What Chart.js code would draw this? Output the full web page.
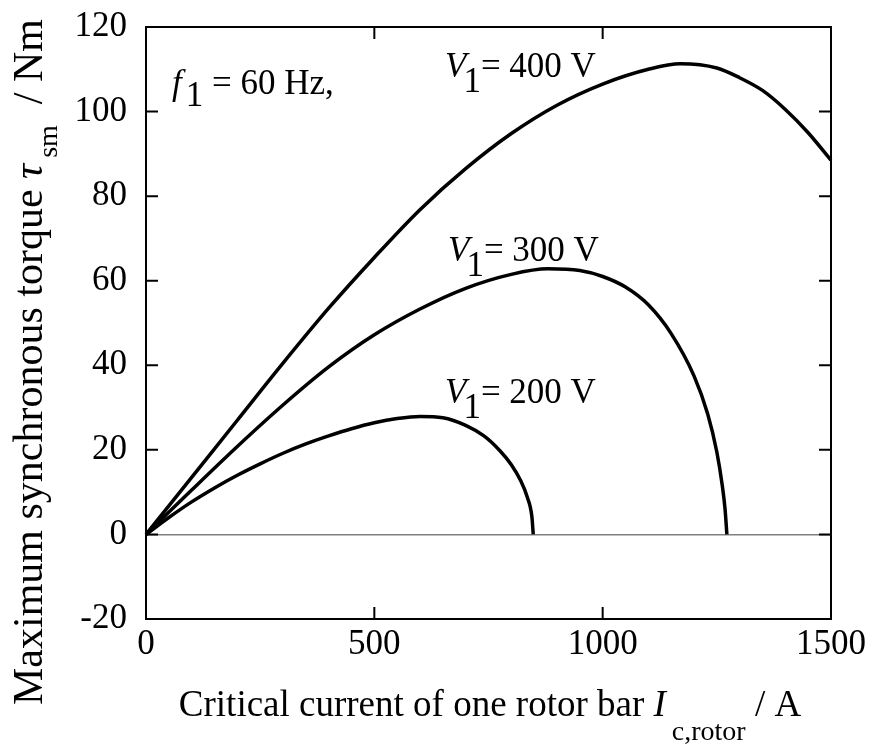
<!DOCTYPE html>
<html>
<head>
<meta charset="utf-8">
<script src="https://cdn.jsdelivr.net/npm/chart.js@4.4.0/dist/chart.umd.min.js"></script>
<style>
  html, body { margin: 0; padding: 0; background: #fff; }
  #wrap { width: 873px; height: 747px; }
</style>
</head>
<body>
<div id="wrap"><canvas id="chart"></canvas></div>
<script>
const current200 = [0, 50, 100, 150, 200, 250, 300, 350, 400, 450, 500, 550, 600, 650, 700, 740, 775, 800, 820, 835, 845, 848];
const torque200  = [0, 4, 7.7, 11, 14, 16.7, 19.2, 21.4, 23.3, 25, 26.4, 27.4, 27.9, 27.6, 25.8, 23.3, 19.8, 16.5, 12.8, 8.8, 4.2, 0];

const current300 = [0, 100, 200, 300, 400, 500, 600, 700, 800, 880, 950, 1000, 1050, 1100, 1150, 1200, 1230, 1250, 1262, 1268, 1272];
const torque300  = [0, 10.5, 20.8, 30.6, 39.6, 47.2, 53.3, 58.2, 61.5, 62.8, 62.4, 61, 58.5, 54.3, 47.5, 37.5, 28.5, 19.5, 11.5, 6, 0];

const current400 = [0, 100, 200, 300, 400, 500, 600, 700, 800, 900, 1000, 1100, 1170, 1250, 1300, 1350, 1400, 1450, 1500];
const torque400  = [0, 13.5, 27, 40.5, 53.5, 65.5, 76.8, 86.5, 94.8, 101.5, 106.5, 110, 111.3, 110.3, 108, 105, 100.5, 95, 88.5];

const xTickValues = [0, 500, 1000, 1500];
const yTickValues = [-20, 0, 20, 40, 60, 80, 100, 120];

const SERIF = "'Liberation Serif', 'Times New Roman', serif";

const toPoints = (xs, ys) => xs.map((x, i) => ({ x: x, y: ys[i] }));

function curve(xs, ys) {
  return {
    data: toPoints(xs, ys),
    borderColor: '#000',
    borderWidth: 3.5,
    pointRadius: 0,
    fill: false,
    cubicInterpolationMode: 'monotone',
    clip: false,
  };
}

// draw a run of text pieces (for sub-scripts), left to right
function drawRich(ctx, segs, x, y, align) {
  let total = 0;
  segs.forEach(s => {
    ctx.font = s.font;
    s.w = ctx.measureText(s.t).width;
    total += s.w + (s.gap || 0);
  });
  let cx = align === 'center' ? x - total / 2 : x;
  segs.forEach(s => {
    ctx.font = s.font;
    ctx.fillText(s.t, cx, y + (s.dy || 0));
    cx += s.w + (s.gap || 0);
  });
}

const framePlugin = {
  id: 'frame',
  afterDraw(chart) {
    const ctx = chart.ctx;
    const a = chart.chartArea;
    const xs = chart.scales.x;
    const ys = chart.scales.y;
    const tick = 12;
    ctx.save();
    ctx.strokeStyle = '#000';
    ctx.lineWidth = 2;
    ctx.strokeRect(a.left, a.top, a.right - a.left, a.bottom - a.top);
    ctx.beginPath();
    yTickValues.forEach(v => {
      const py = ys.getPixelForValue(v);
      ctx.moveTo(a.left, py); ctx.lineTo(a.left + tick, py);
      ctx.moveTo(a.right, py); ctx.lineTo(a.right - tick, py);
    });
    xTickValues.forEach(v => {
      const px = xs.getPixelForValue(v);
      ctx.moveTo(px, a.bottom); ctx.lineTo(px, a.bottom - tick);
      ctx.moveTo(px, a.top); ctx.lineTo(px, a.top + tick);
    });
    ctx.stroke();

    ctx.fillStyle = '#000';
    ctx.textBaseline = 'alphabetic';
    ctx.textAlign = 'left';
    const f = '35px ' + SERIF;
    const fi = 'italic 35px ' + SERIF;

    drawRich(ctx, [
      { t: 'f', font: fi, gap: 4 },
      { t: '1', font: f, dy: 12 },
      { t: ' = 60 Hz,', font: f }
    ], 172, 94);

    const vLabel = (txt, x, y) => drawRich(ctx, [
      { t: 'V', font: fi, gap: -3 },
      { t: '1', font: f, dy: 15 },
      { t: '= ' + txt, font: f }
    ], x, y);
    vLabel('400 V', 445, 77);
    vLabel('300 V', 448, 261);
    vLabel('200 V', 445, 403);

    // axis titles
    const tf = '37px ' + SERIF;
    const tfi = 'italic 37px ' + SERIF;
    const sf = '28px ' + SERIF;
    drawRich(ctx, [
      { t: 'Critical current of one rotor bar ', font: tf },
      { t: 'I', font: tfi, gap: 6 },
      { t: 'c,rotor', font: sf, dy: 24 },
      { t: ' / A', font: tf }
    ], 490, 716, 'center');

    const yf = '42px ' + SERIF;
    const yfi = 'italic 42px ' + SERIF;
    ctx.translate(42, 362);
    ctx.rotate(-Math.PI / 2);
    drawRich(ctx, [
      { t: 'Maximum synchronous torque ', font: yf },
      { t: '\u03C4', font: yfi, gap: 6 },
      { t: 'sm', font: sf, dy: 15 },
      { t: '  / Nm', font: yf }
    ], 0, 0, 'center');
    ctx.restore();
  }
};

new Chart(document.getElementById('chart').getContext('2d'), {
  type: 'line',
  data: {
    datasets: [
      curve(current400, torque400),
      curve(current300, torque300),
      curve(current200, torque200),
    ],
  },
  options: {
    responsive: true,
    maintainAspectRatio: false,
    animation: false,
    layout: { padding: { top: 27, right: 42, bottom: 0, left: 0 } },
    plugins: {
      legend: { display: false },
      tooltip: { enabled: false },
    },
    scales: {
      x: {
        type: 'linear',
        min: 0,
        max: 1500,
        afterBuildTicks: (scale) => { scale.ticks = xTickValues.map(v => ({ value: v })); },
        afterFit: (scale) => {
          scale.height = 128;
          scale.paddingLeft = 0; scale.paddingRight = 0;
        },
        border: { display: false },
        grid: { display: false, drawTicks: false },
        ticks: {
          color: '#000',
          padding: 5,
          font: { family: SERIF, size: 35 },
          callback: (v) => String(v),
        },
      },
      y: {
        type: 'linear',
        min: -20,
        max: 120,
        afterBuildTicks: (scale) => { scale.ticks = yTickValues.map(v => ({ value: v })); },
        afterFit: (scale) => {
          scale.width = 146;
          scale.paddingTop = 0; scale.paddingBottom = 0;
        },
        border: { display: false },
        grid: {
          drawTicks: false,
          lineWidth: 1.5,
          color: (c) => (c.tick && c.tick.value === 0 ? '#808080' : 'rgba(0,0,0,0)'),
        },
        ticks: {
          color: '#000',
          padding: 19,
          font: { family: SERIF, size: 35 },
          callback: (v) => String(v),
        },
      },
    },
  },
  plugins: [framePlugin],
});
</script>
</body>
</html>
